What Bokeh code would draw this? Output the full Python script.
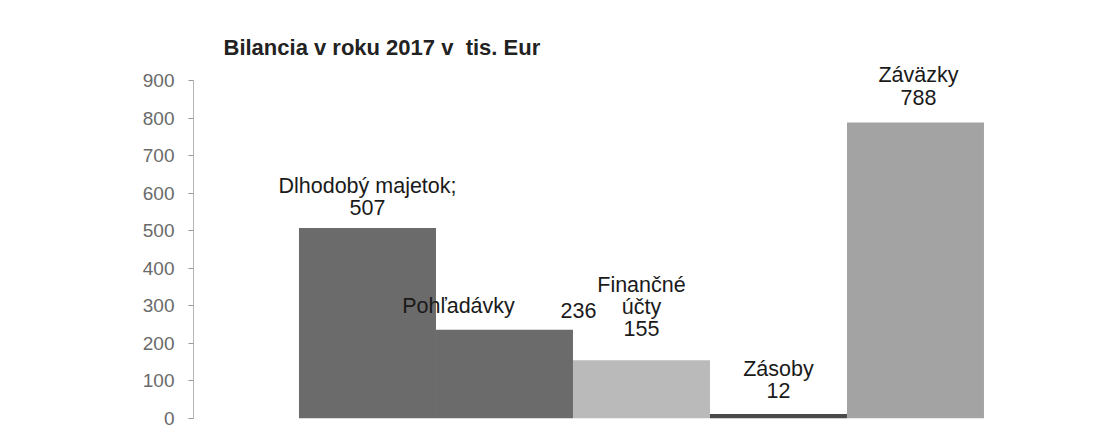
from bokeh.plotting import figure
from bokeh.models import ColumnDataSource, Range1d, FixedTicker, Label
from bokeh.core.properties import value
from bokeh.embed import file_html
from bokeh.resources import INLINE

# --- data ---
categories = ["Dlhodobý majetok", "Pohľadávky", "Finančné účty", "Zásoby", "Záväzky"]
values = [507, 236, 155, 12, 788]
label_names = ["Dlhodobý majetok;", "Pohľadávky", "Finančné\núčty", "Zásoby", "Záväzky"]
y_ticks = [0, 100, 200, 300, 400, 500, 600, 700, 800, 900]
title_text = "Bilancia v roku 2017 v\u00a0 tis. Eur"

# --- styles ---
bar_colors = ["#6b6b6b", "#6b6b6b", "#bababa", "#4a4a4a", "#a3a3a3"]
FONT = "Liberation Sans"
PX_PER_UNIT = 338 / 900.0
FRAME_H = 418
Y_TOP = FRAME_H / PX_PER_UNIT

xs = list(range(len(categories)))
src = ColumnDataSource(dict(x=xs, top=values, color=bar_colors, cat=categories))

p = figure(width=1080, height=428, output_backend="svg", toolbar_location=None,
           x_axis_type=None, x_range=Range1d(-1.27, 5.19), y_range=Range1d(0, Y_TOP),
           min_border_left=193, min_border_right=2, min_border_top=0, min_border_bottom=10)
p.outline_line_color = None
p.grid.visible = False
p.background_fill_color = "white"
p.border_fill_color = "white"

p.vbar(x="x", top="top", width=1.0, bottom=0, fill_color="color", line_color=None, source=src)

# y axis
ax = p.yaxis[0]
ax.bounds = (0, 900)
ax.ticker = FixedTicker(ticks=y_ticks)
ax.axis_line_color = "#b5b5b5"
ax.major_tick_line_color = "#9a9a9a"
ax.major_tick_in = 0
ax.major_tick_out = 5
ax.minor_tick_line_color = None
ax.major_label_text_font = FONT
ax.major_label_text_font_size = "19px"
ax.major_label_text_color = "#6a6a6a"
ax.major_label_standoff = 14

# title (inside the frame, screen units)
title = Label(x=30, y=FRAME_H - 47, x_units="screen", y_units="screen", text=title_text,
              text_font=FONT, text_font_size="22px", text_font_style="bold",
              text_color="#222222", text_align="left", text_baseline="middle")
p.add_layout(title)

# data labels
label_dx = [0, -46, 0, 0, 3]
label_dy = [8, 12, 19, 11, 13]
texts = []
for i, (n, v) in enumerate(zip(label_names, values)):
    if i == 1:
        texts.append(n)
    else:
        texts.append(n + "\n" + str(v))
lab_src = ColumnDataSource(dict(x=xs + [1], y=values + [values[1]], text=texts + [str(values[1])],
                                dx=label_dx + [74], dy=[-d for d in label_dy] + [-12]))
p.text(x="x", y="y", text="text", x_offset="dx", y_offset="dy", source=lab_src,
       text_align="center", text_baseline="bottom", text_font=value(FONT),
       text_font_size="21.5px", text_color="#1a1a1a", text_line_height=0.92)

open("out.html", "w").write(file_html(p, INLINE))
